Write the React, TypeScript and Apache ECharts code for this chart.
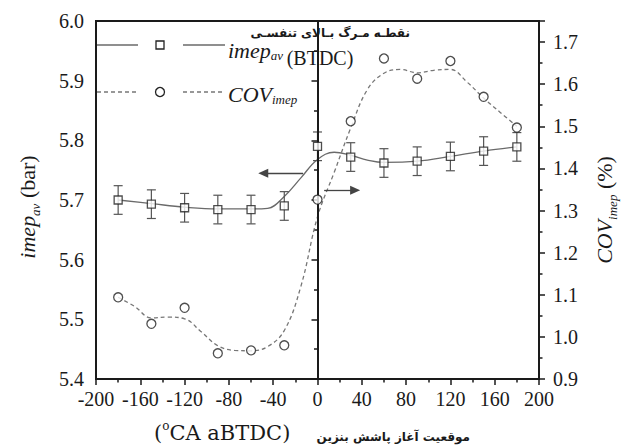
import React, { useEffect, useRef } from "react";
import * as echarts from "echarts";

// ---- data ----
const injTiming = [-180, -150, -120, -90, -60, -30, 0, 30, 60, 90, 120, 150, 180];
const imepAv = [5.700, 5.693, 5.687, 5.684, 5.684, 5.690, 5.790, 5.772, 5.762, 5.765, 5.773, 5.782, 5.789];
const imepErr = [0.024, 0.024, 0.024, 0.024, 0.024, 0.024, 0.024, 0.024, 0.024, 0.024, 0.024, 0.024, 0.024];
const covImep = [1.094, 1.031, 1.069, 0.961, 0.968, 0.980, 1.326, 1.512, 1.661, 1.613, 1.655, 1.570, 1.497];

// fitted (smoothed) curves as drawn in the reference
const imepFitX = [-180, -150, -120, -90, -60, -45, -30, -15, 0, 15, 30, 45, 60, 90, 120, 150, 180];
const imepFitY = [5.700, 5.694, 5.688, 5.685, 5.685, 5.686, 5.706, 5.737, 5.768, 5.780, 5.775, 5.767, 5.763, 5.765, 5.773, 5.782, 5.789];
const covFitX = [-180, -165, -150, -135, -120, -105, -90, -75, -60, -45, -30, -15, 0, 15, 30, 45, 60, 75, 90, 105, 120, 135, 150, 165, 180];
const covFitY = [1.094, 1.072, 1.045, 1.047, 1.043, 1.012, 0.979, 0.968, 0.967, 0.977, 1.015, 1.120, 1.285, 1.390, 1.496, 1.587, 1.626, 1.635, 1.627, 1.633, 1.635, 1.605, 1.567, 1.533, 1.500];

const xTicks = { min: -200, max: 200, interval: 40 };
const yLeft = { min: 5.4, max: 6.0, interval: 0.1 };
const yRight = { min: 0.9, max: 1.75, interval: 0.1 };

const serif = "Liberation Serif";
const ink = "#1a1a1a";
const gray = "#6a6a6a";

export default function App() {
  const ref = useRef<HTMLDivElement>(null);
  useEffect(() => {
    const chart = echarts.init(ref.current!, null, { renderer: "svg" });
    const axisCommon = {
      axisLine: { show: true, lineStyle: { color: ink, width: 2 } },
      axisTick: { show: true, inside: false, length: 6, lineStyle: { color: ink, width: 1.5 } },
      minorTick: { show: true, splitNumber: 2, length: 3.5, lineStyle: { color: ink, width: 1.5 } },
      splitLine: { show: false },
      axisLabel: { color: ink, fontFamily: serif, fontSize: 20 },
    };
    const subRich = (size: number, lh: number) => ({
      a: { fontFamily: serif, fontStyle: "italic", fontSize: size, fill: ink, lineHeight: lh },
      s: { fontFamily: serif, fontStyle: "italic", fontSize: Math.round(size * 0.6), fill: ink, verticalAlign: "bottom", lineHeight: Math.round(size * 0.6) },
      b: { fontFamily: serif, fontSize: size, fill: ink, lineHeight: lh },
    });
    const option: any = {
      animation: false,
      backgroundColor: "#fff",
      grid: { left: 96, right: 91, top: 21, bottom: 69, show: true, borderColor: ink, borderWidth: 2, containLabel: false },
      xAxis: {
        type: "value",
        ...xTicks,
        ...axisCommon,
        axisLabel: { ...axisCommon.axisLabel, margin: 10 },
      },
      yAxis: [
        {
          type: "value",
          ...yLeft,
          ...axisCommon,
          axisLabel: { ...axisCommon.axisLabel, margin: 12, formatter: (v: number) => v.toFixed(1) },
        },
        {
          type: "value",
          position: "right",
          ...yRight,
          ...axisCommon,
          axisLabel: { ...axisCommon.axisLabel, margin: 14, showMaxLabel: false, formatter: (v: number) => v.toFixed(1) },
        },
      ],
      series: [
        {
          type: "line",
          name: "imepFit",
          yAxisIndex: 0,
          smooth: 0.4,
          showSymbol: false,
          symbol: "none",
          lineStyle: { color: gray, width: 1.3 },
          data: imepFitX.map((x, i) => [x, imepFitY[i]]),
          z: 2,
          markLine: {
            silent: true,
            animation: false,
            label: { show: false },
            data: [
              [
                { coord: [0, 5.4], symbol: "none", lineStyle: { color: ink, width: 2, type: "solid" } },
                { coord: [0, 5.919], symbol: "none" },
              ],
              [
                { coord: [-13, 5.745], symbol: "none", lineStyle: { color: "#444", width: 1.3, type: "solid" } },
                { coord: [-49, 5.745], symbol: "triangle", symbolSize: [9, 10] },
              ],
            ],
            itemStyle: { color: ink },
          },
        },
        {
          type: "custom",
          name: "err",
          yAxisIndex: 0,
          z: 3,
          renderItem: (params: any, api: any) => {
            const x = api.value(0);
            const lo = api.coord([x, api.value(1)]);
            const hi = api.coord([x, api.value(2)]);
            const hw = 4.5;
            const st = { stroke: "#555", lineWidth: 1.2 };
            return {
              type: "group",
              children: [
                { type: "line", shape: { x1: lo[0], y1: lo[1], x2: hi[0], y2: hi[1] }, style: st },
                { type: "line", shape: { x1: lo[0] - hw, y1: lo[1], x2: lo[0] + hw, y2: lo[1] }, style: st },
                { type: "line", shape: { x1: hi[0] - hw, y1: hi[1], x2: hi[0] + hw, y2: hi[1] }, style: st },
              ],
            };
          },
          encode: { x: 0, y: [1, 2] },
          data: injTiming.map((x, i) => [x, imepAv[i] - imepErr[i], imepAv[i] + imepErr[i]]),
        },
        {
          type: "scatter",
          name: "imep",
          yAxisIndex: 0,
          symbol: "rect",
          symbolSize: 8,
          itemStyle: { color: "#fff", borderColor: "#222", borderWidth: 1.3 },
          data: injTiming.map((x, i) => [x, imepAv[i]]),
          z: 5,
        },
        {
          type: "line",
          name: "covFit",
          yAxisIndex: 1,
          smooth: 0.4,
          showSymbol: false,
          symbol: "none",
          lineStyle: { color: "#777", width: 1.3, type: [4, 3] },
          data: covFitX.map((x, i) => [x, covFitY[i]]),
          z: 2,
          markLine: {
            silent: true,
            animation: false,
            label: { show: false },
            data: [
              [
                { coord: [6, 1.348], symbol: "none", lineStyle: { color: "#444", width: 1.3, type: "solid" } },
                { coord: [34, 1.348], symbol: "triangle", symbolSize: [9, 10] },
              ],
            ],
            itemStyle: { color: ink },
          },
        },
        {
          type: "scatter",
          name: "cov",
          yAxisIndex: 1,
          symbol: "circle",
          symbolSize: 9,
          itemStyle: { color: "#fff", borderColor: "#222", borderWidth: 1.3 },
          data: injTiming.map((x, i) => [x, covImep[i]]),
          z: 5,
        },
      ],
      graphic: [
        // legend row 1
        { type: "line", shape: { x1: 97, y1: 45, x2: 138, y2: 45 }, style: { stroke: gray, lineWidth: 1.3 } },
        { type: "rect", shape: { x: 156, y: 41, width: 8, height: 8 }, style: { fill: "#fff", stroke: "#222", lineWidth: 1.3 } },
        { type: "line", shape: { x1: 183, y1: 45, x2: 225, y2: 45 }, style: { stroke: gray, lineWidth: 1.3 } },
        {
          type: "text",
          x: 228,
          y: 50,
          style: { text: "{a|imep}{s|av}", rich: subRich(22, 24), verticalAlign: "middle", align: "left" },
        },
        // legend row 2
        { type: "line", shape: { x1: 97, y1: 92, x2: 138, y2: 92 }, style: { stroke: "#777", lineWidth: 1.3, lineDash: [4, 3] } },
        { type: "circle", shape: { cx: 160, cy: 92, r: 4.5 }, style: { fill: "#fff", stroke: "#222", lineWidth: 1.3 } },
        { type: "line", shape: { x1: 183, y1: 92, x2: 225, y2: 92 }, style: { stroke: "#777", lineWidth: 1.3, lineDash: [4, 3] } },
        {
          type: "text",
          x: 228,
          y: 94,
          style: { text: "{a|COV}{s|imep}", rich: subRich(22, 24), verticalAlign: "middle", align: "left" },
        },
        // TDC annotation
        {
          type: "text",
          x: 410,
          y: 33,
          style: { text: "نقطـه مـرگ بـالای تنفسـی", fontFamily: "DejaVu Sans", fontWeight: "bold", fontSize: 12, fill: ink, align: "right", verticalAlign: "middle" },
        },
        {
          type: "text",
          x: 320,
          y: 58,
          style: { text: "(BTDC)", fontFamily: serif, fontSize: 20, fill: ink, align: "center", verticalAlign: "middle" },
        },
        // axis titles
        {
          type: "text",
          x: 27,
          y: 207,
          rotation: Math.PI / 2,
          style: { text: "{a|imep}{s|av}{b| (bar)}", rich: subRich(22, 30), align: "center", verticalAlign: "middle" },
        },
        {
          type: "text",
          x: 604,
          y: 210,
          rotation: Math.PI / 2,
          style: { text: "{a|COV}{s|imep}{b| (%)}", rich: subRich(22, 30), align: "center", verticalAlign: "middle" },
        },
        {
          type: "text",
          x: 154,
          y: 433,
          style: {
            text: "{b|(}{o|o}{b|CA aBTDC)}",
            rich: {
              b: { fontFamily: "DejaVu Serif", fontSize: 21, fill: ink, lineHeight: 26 },
              o: { fontFamily: "DejaVu Serif", fontSize: 12, fill: ink, verticalAlign: "top", lineHeight: 12 },
            },
            align: "left",
            verticalAlign: "middle",
          },
        },
        {
          type: "text",
          x: 470,
          y: 437,
          style: { text: "موقعیت آغاز پاشش بنزین", fontFamily: "DejaVu Sans", fontWeight: "bold", fontSize: 12, fill: ink, align: "right", verticalAlign: "middle" },
        },
      ],
    };
    chart.setOption(option);
    return () => chart.dispose();
  }, []);
  return <div ref={ref} style={{ position: "fixed", left: 0, top: 0, width: 630, height: 448 }} />;
}
